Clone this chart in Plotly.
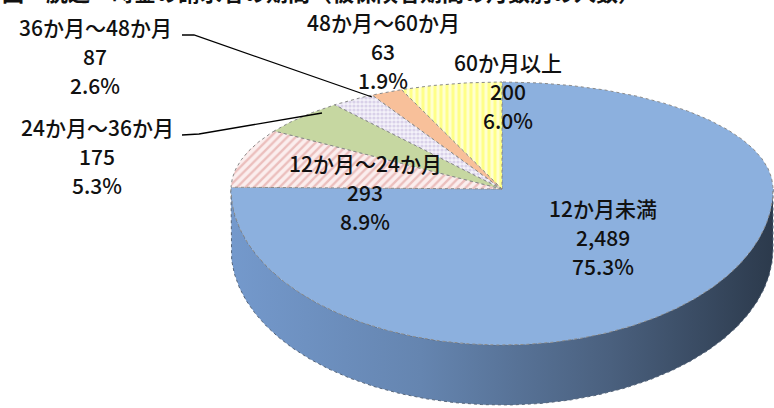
import numpy as np
import plotly.graph_objects as go

# ---------------- data ----------------
categories = ["12か月未満", "12か月～24か月", "24か月～36か月",
              "36か月～48か月", "48か月～60か月", "60か月以上"]
counts = [2489, 293, 175, 87, 63, 200]

# ---------------- styles / layout ----------------
W, H = 774, 408
CX, CY = 502, 189          # pie centre (pixel space)
RX, RY_BACK, RY_FRONT = 271, 107, 156
DEPTH = 60
FONT = "Noto Sans CJK JP"
FS = 21
LINE_GAP = 29

slice_styles = [
    dict(fillcolor="#8cb0de"),
    dict(pattern=dict(shape="/", fgcolor="#dc8f8c", bgcolor="#fbeeee", size=6, solidity=0.4)),
    dict(fillcolor="#c6d7a1"),
    dict(pattern=dict(shape=".", fgcolor="#bdb0d9", bgcolor="#f4f2f9", size=4, solidity=0.5)),
    dict(fillcolor="#f8c09a"),
    dict(pattern=dict(shape="|", fgcolor="#ffff40", bgcolor="#ffffd0", size=6, solidity=0.5)),
]

# label anchor (first line centre) per category
label_pos = [(603, 208), (365, 163), (97, 127), (95, 27), (383, 22), (508, 62)]

# leader lines for small slices (pixel paths)
leaders = [
    [(182, 135), (199, 134), (322, 113)],
    [(182, 35), (194, 35), (372, 97)],
]


def pt(theta, dy=0.0):
    t = np.radians(theta)
    c = np.cos(t)
    ry = RY_BACK if c >= 0 else RY_FRONT
    return CX + RX * np.sin(t), CY - ry * c + dy


def arc(a0, a1, dy=0.0, n=None):
    if n is None:
        n = max(8, int(abs(a1 - a0) * 2))
    ths = np.linspace(a0, a1, n)
    xs, ys = zip(*[pt(t, dy) for t in ths])
    return list(xs), list(ys)


total = sum(counts)
fracs = [c / total for c in counts]
starts = np.concatenate([[0], np.cumsum(fracs)[:-1]]) * 360
ends = np.cumsum(fracs) * 360

fig = go.Figure()

# side wall (front half only: 90..270 deg)
for a0, a1 in zip(starts, ends):
    s0, s1 = max(a0, 90), min(a1, 270)
    if s1 <= s0:
        continue
    tx, ty = arc(s0, s1)
    bx, by = arc(s1, s0, dy=DEPTH)
    fig.add_trace(go.Scatter(
        x=tx + bx + [tx[0]], y=ty + by + [ty[0]],
        mode="lines", fill="toself",
        line=dict(color="#55657a", width=1, dash="dot"),
        fillgradient=dict(type="horizontal",
                          colorscale=[[0, "#7499cc"], [0.35, "#6585b0"],
                                      [0.7, "#4a607e"], [1, "#2c3a4c"]]),
        hoverinfo="skip", showlegend=False))

# top face slices
for i, (a0, a1) in enumerate(zip(starts, ends)):
    ax, ay = arc(a0, a1)
    xs = [CX] + ax + [CX]
    ys = [CY] + ay + [CY]
    st = slice_styles[i]
    kw = dict(x=xs, y=ys, mode="lines", fill="toself",
              line=dict(color="#8a8a8a", width=1, dash="dot"),
              name=categories[i], hoverinfo="skip", showlegend=False)
    if "pattern" in st:
        kw["fillcolor"] = st["pattern"]["bgcolor"]
        kw["fillpattern"] = st["pattern"]
    else:
        kw["fillcolor"] = st["fillcolor"]
    fig.add_trace(go.Scatter(**kw))

# labels
for i, (lx, ly) in enumerate(label_pos):
    lines = [categories[i], f"{counts[i]:,}", f"{fracs[i]*100:.1f}%"]
    for k, txt in enumerate(lines):
        fig.add_annotation(x=lx, y=ly + k * LINE_GAP, text=txt, showarrow=False,
                           xanchor="center", yanchor="middle",
                           font=dict(family=FONT, size=FS, color="#111111", weight=500))

for path in leaders:
    d = "M " + " L ".join(f"{x},{y}" for x, y in path)
    fig.add_shape(type="path", path=d, xref="x", yref="y",
                  line=dict(color="black", width=1.3))

# cut-off title strip at the very top (only its lower edge is visible)
fig.add_annotation(x=0, y=1 + 9 / H, xref="paper", yref="paper",
                   xanchor="left", yanchor="middle", showarrow=False,
                   text="<b>図　脱退一時金の請求者の期間（被保険者期間の月数別の人数）</b>",
                   font=dict(family=FONT, size=22, color="#111111"))

fig.update_layout(
    width=W, height=H, margin=dict(l=0, r=0, t=0, b=0),
    paper_bgcolor="white", plot_bgcolor="white",
    xaxis=dict(range=[0, W], visible=False, fixedrange=True),
    yaxis=dict(range=[H, 0], visible=False, fixedrange=True),
)

fig.write_html("out.html")
